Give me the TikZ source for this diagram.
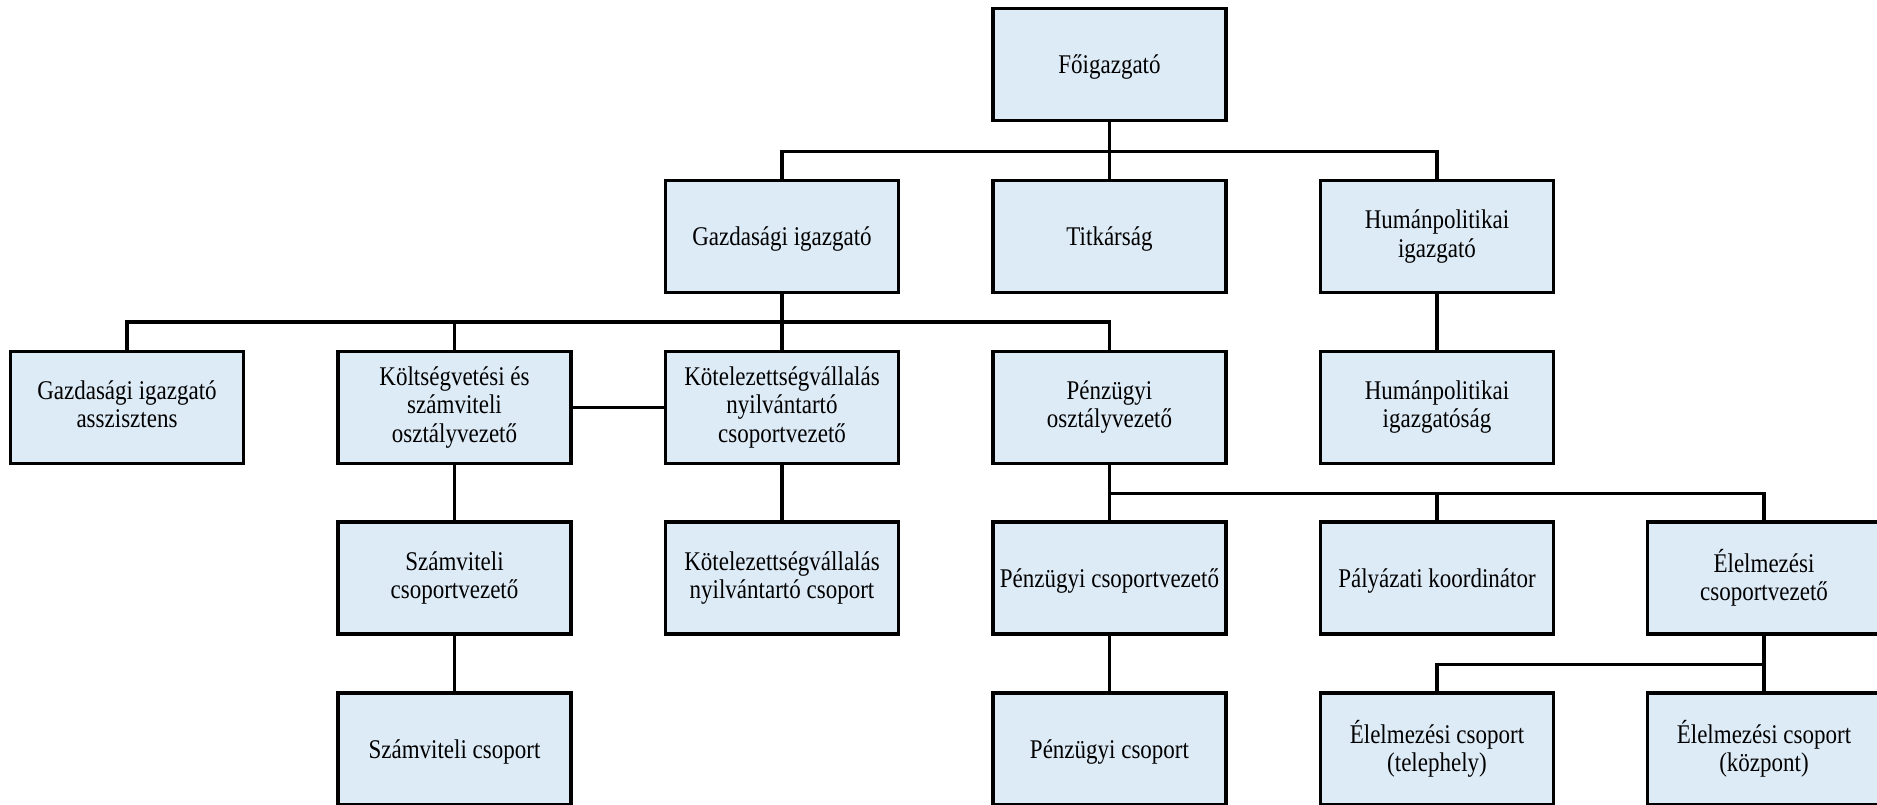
\documentclass[tikz,border=0pt]{standalone}
\usepackage{fontspec}
\setmainfont[FakeStretch=0.852]{Liberation Serif}
\definecolor{boxfill}{RGB}{221,235,247}
\tikzset{
  orgbox/.style={draw=black, line width=3.2pt, fill=boxfill, minimum width=233pt, minimum height=112pt, align=center, inner sep=2pt, font=\fontsize{27}{28.5}\selectfont,
    execute at begin node={\rule{0pt}{24pt}}, execute at end node={\rule[-6pt]{0pt}{6pt}}},
  link/.style={draw=black, line width=3.2pt}
}
\begin{document}
\begin{tikzpicture}[x=1pt,y=-1pt]
\useasboundingbox (0,0) rectangle (1877,805);
\clip (0,0) rectangle (1877,805);
% columns: 127, 454.5, 782, 1109.5, 1437, 1764 ; rows: 64.5, 236.5, 407.3, 578, 749
\node[orgbox] (fo) at (1109.5,64.5) {Főigazgató};
\node[orgbox] (gi) at (782,236.5) {Gazdasági igazgató};
\node[orgbox] (ti) at (1109.5,236.5) {Titkárság};
\node[orgbox] (hi) at (1437,236.5) {Humánpolitikai\\igazgató};
\node[orgbox] (ga) at (127,407.3) {Gazdasági igazgató\\asszisztens};
\node[orgbox] (ko) at (454.5,407.3) {Költségvetési és\\számviteli\\osztályvezető};
\node[orgbox] (kv) at (782,407.3) {Kötelezettségvállalás\\nyilvántartó\\csoportvezető};
\node[orgbox] (po) at (1109.5,407.3) {Pénzügyi\\osztályvezető};
\node[orgbox] (hg) at (1437,407.3) {Humánpolitikai\\igazgatóság};
\node[orgbox] (sv) at (454.5,578) {Számviteli\\csoportvezető};
\node[orgbox] (kc) at (782,578) {Kötelezettségvállalás\\nyilvántartó csoport};
\node[orgbox] (pv) at (1109.5,578) {Pénzügyi csoportvezető};
\node[orgbox] (pk) at (1437,578) {Pályázati koordinátor};
\node[orgbox] (ev) at (1764,578) {Élelmezési\\csoportvezető};
\node[orgbox] (sc) at (454.5,749) {Számviteli csoport};
\node[orgbox] (pc) at (1109.5,749) {Pénzügyi csoport};
\node[orgbox] (et) at (1437,749) {Élelmezési csoport\\(telephely)};
\node[orgbox] (ek) at (1764,749) {Élelmezési csoport\\(központ)};
\coordinate (b0) at (0,151.5);
\coordinate (b1) at (0,322);
\coordinate (b2) at (0,493.3);
\coordinate (b3) at (0,664.3);
% top level
\draw[link] (fo.south) -- (ti.north);
\draw[link] (gi.north) -- (gi.north |- b0) -- (hi.north |- b0) -- (hi.north);
% Gazdasági igazgató
\draw[link] (gi.south) -- (kv.north);
\draw[link] (ga.north) -- (ga.north |- b1) -- (po.north |- b1) -- (po.north);
\draw[link] (ko.north) -- (ko.north |- b1);
\draw[link] (ko.east) -- (kv.west);
\draw[link] (ko.south) -- (sv.north);
\draw[link] (sv.south) -- (sc.north);
\draw[link] (kv.south) -- (kc.north);
\draw[link] (hi.south) -- (hg.north);
% Pénzügyi
\draw[link] (po.south) -- (pv.north);
\draw[link] (pv.south) -- (pc.north);
\draw[link] (pv.north |- b2) -- (ev.north |- b2) -- (ev.north);
\draw[link] (pk.north) -- (pk.north |- b2);
% Élelmezési
\draw[link] (ev.south) -- (ek.north);
\draw[link] (et.north) -- (et.north |- b3) -- (ek.north |- b3);
\end{tikzpicture}
\end{document}
